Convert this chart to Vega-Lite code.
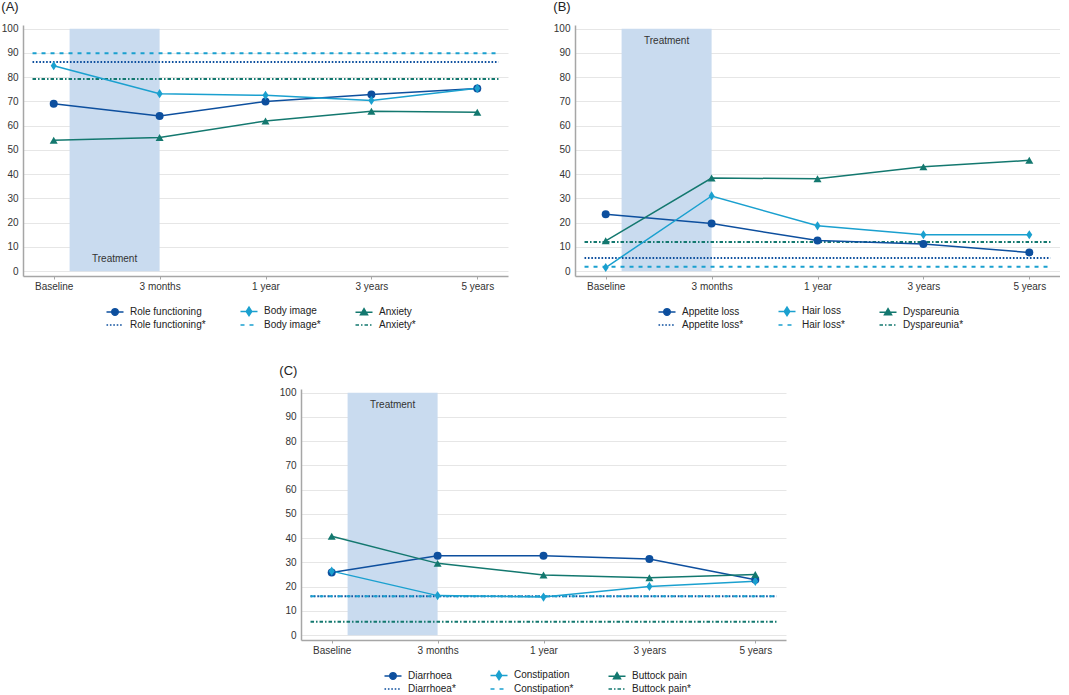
{
  "$schema": "https://vega.github.io/schema/vega-lite/v6.json",
  "padding": {"left": 1, "top": 0, "right": 0, "bottom": 0},
  "config": {
    "font": "Liberation Sans",
    "view": {"stroke": null},
    "title": {"anchor": "start", "frame": "bounds", "fontSize": 13, "fontWeight": "normal", "offset": 10, "color": "#222222"},
    "axis": {"labelFontSize": 10, "labelColor": "#333333", "domainColor": "#a6a6a6", "domainWidth": 1.5, "tickColor": "#a6a6a6"},
    "axisY": {"tickCount": 11, "grid": true, "gridColor": "#e6e6e6", "ticks": false, "labelPadding": 5},
    "axisX": {"tickCount": 5, "grid": false, "ticks": true, "tickSize": 3, "labelPadding": 2, "labelFlush": false},
    "legend": {"labelFontSize": 10, "labelColor": "#222222", "orient": "none", "legendX": 86, "legendY": 280, "direction": "horizontal", "columns": 3, "columnPadding": 31, "rowPadding": 0, "symbolSize": 100, "labelOffset": 9}
  },
  "datasets": {
    "band": [{"label": "Treatment", "t": 0.15, "t2": 1, "value": 0, "value2": 100}],
    "a_meas": [
      {"series": "Role functioning", "t": 0, "value": 69},
      {"series": "Role functioning", "t": 1, "value": 64},
      {"series": "Role functioning", "t": 2, "value": 70},
      {"series": "Role functioning", "t": 3, "value": 72.8},
      {"series": "Role functioning", "t": 4, "value": 75.3},
      {"series": "Body image", "t": 0, "value": 84.7},
      {"series": "Body image", "t": 1, "value": 73.2},
      {"series": "Body image", "t": 2, "value": 72.5},
      {"series": "Body image", "t": 3, "value": 70.4},
      {"series": "Body image", "t": 4, "value": 75.4},
      {"series": "Anxiety", "t": 0, "value": 54},
      {"series": "Anxiety", "t": 1, "value": 55.1},
      {"series": "Anxiety", "t": 2, "value": 61.9},
      {"series": "Anxiety", "t": 3, "value": 65.9},
      {"series": "Anxiety", "t": 4, "value": 65.5}
    ],
    "a_ref": [
      {"series": "Role functioning*", "value": 86.2},
      {"series": "Body image*", "value": 89.8},
      {"series": "Anxiety*", "value": 79.2}
    ],
    "b_meas": [
      {"series": "Appetite loss", "t": 0, "value": 23.5},
      {"series": "Appetite loss", "t": 1, "value": 19.6},
      {"series": "Appetite loss", "t": 2, "value": 12.6},
      {"series": "Appetite loss", "t": 3, "value": 11.2},
      {"series": "Appetite loss", "t": 4, "value": 7.7},
      {"series": "Hair loss", "t": 0, "value": 1.5},
      {"series": "Hair loss", "t": 1, "value": 31},
      {"series": "Hair loss", "t": 2, "value": 18.7},
      {"series": "Hair loss", "t": 3, "value": 15},
      {"series": "Hair loss", "t": 4, "value": 15},
      {"series": "Dyspareunia", "t": 0, "value": 12.5},
      {"series": "Dyspareunia", "t": 1, "value": 38.4},
      {"series": "Dyspareunia", "t": 2, "value": 38.1},
      {"series": "Dyspareunia", "t": 3, "value": 43},
      {"series": "Dyspareunia", "t": 4, "value": 45.7}
    ],
    "b_ref": [
      {"series": "Appetite loss*", "value": 5.4},
      {"series": "Hair loss*", "value": 1.8},
      {"series": "Dyspareunia*", "value": 12}
    ],
    "c_meas": [
      {"series": "Diarrhoea", "t": 0, "value": 25.8},
      {"series": "Diarrhoea", "t": 1, "value": 32.7},
      {"series": "Diarrhoea", "t": 2, "value": 32.7},
      {"series": "Diarrhoea", "t": 3, "value": 31.4},
      {"series": "Diarrhoea", "t": 4, "value": 22.8},
      {"series": "Constipation", "t": 0, "value": 26.4},
      {"series": "Constipation", "t": 1, "value": 16.3},
      {"series": "Constipation", "t": 2, "value": 15.7},
      {"series": "Constipation", "t": 3, "value": 20.1},
      {"series": "Constipation", "t": 4, "value": 22.2},
      {"series": "Buttock pain", "t": 0, "value": 40.8},
      {"series": "Buttock pain", "t": 1, "value": 29.6},
      {"series": "Buttock pain", "t": 2, "value": 24.8},
      {"series": "Buttock pain", "t": 3, "value": 23.7},
      {"series": "Buttock pain", "t": 4, "value": 25}
    ],
    "c_ref": [
      {"series": "Diarrhoea*", "value": 16},
      {"series": "Constipation*", "value": 16},
      {"series": "Buttock pain*", "value": 5.5}
    ]
  },
  "resolve": {"scale": {"color": "independent", "shape": "independent", "strokeDash": "independent"}},
  "spacing": 34,
  "vconcat": [
    {
      "spacing": 45,
      "resolve": {"scale": {"color": "independent", "shape": "independent", "strokeDash": "independent"}},
      "hconcat": [
        {
          "width": 485,
          "height": 251,
          "title": "(A)",
          "layer": [
            {"data": {"name": "band"}, "mark": {"type": "rect", "color": "#c9dbef"}, "encoding": {
              "x": {"field": "t", "type": "quantitative", "title": null, "scale": {"domain": [-0.29, 4.29], "nice": false, "zero": false}, "axis": {"values": [0, 1, 2, 3, 4], "labelExpr": "['Baseline','3 months','1 year','3 years','5 years'][datum.value]"}},
              "x2": {"field": "t2"},
              "y": {"field": "value", "type": "quantitative", "title": null, "scale": {"domain": [-2, 101.5], "nice": false, "zero": false}, "axis": {"values": [0, 10, 20, 30, 40, 50, 60, 70, 80, 90, 100]}},
              "y2": {"field": "value2"}}},
            {"data": {"name": "band"}, "mark": {"type": "text", "fontSize": 10, "color": "#333333"}, "encoding": {"x": {"datum": 0.575}, "y": {"datum": 5}, "text": {"field": "label"}}},
            {"data": {"name": "a_ref"}, "mark": {"type": "rule", "strokeWidth": 2}, "encoding": {
              "x": {"datum": -0.2}, "x2": {"datum": 4.2},
              "y": {"field": "value", "type": "quantitative", "title": null},
              "color": {"field": "series", "type": "nominal", "title": null, "scale": {"domain": ["Role functioning", "Body image", "Anxiety", "Role functioning*", "Body image*", "Anxiety*"], "range": ["#0d4f9e", "#1aa0cf", "#13786f", "#0d4f9e", "#1aa0cf", "#13786f"]}, "legend": {"encode": {"symbols": {"update": {
                "shape": {"signal": "datum.index == 0 ? 'M-1.7,0H1.7M-0.65,0A0.65,0.65,0,1,0,0.65,0A0.65,0.65,0,1,0,-0.65,0Z' : datum.index == 1 ? 'M-1.7,0H1.7M0,-0.85L0.55,0L0,0.85L-0.55,0Z' : datum.index == 2 ? 'M-1.7,0H1.7M0,-0.7L0.7,0.5L-0.7,0.5Z' : 'M-1.7,0H1.7'"},
                "stroke": {"signal": "['#0d4f9e','#1aa0cf','#13786f'][datum.index % 3]"},
                "fill": {"signal": "datum.index < 3 ? ['#0d4f9e','#1aa0cf','#13786f'][datum.index % 3] : 'transparent'"},
                "strokeDash": {"signal": "[[], [], [], [1.6,1.8], [4,5], [3.5,2,1.5,2]][datum.index]"},
                "strokeWidth": {"value": 1.5}, "size": {"value": 100}, "opacity": {"value": 1}}}}}},
              "strokeDash": {"field": "series", "type": "nominal", "scale": {"domain": ["Role functioning*", "Body image*", "Anxiety*"], "range": [[1.6, 1.8], [4, 5], [3.5, 2, 1.5, 2]]}, "legend": null}
            }},
            {"data": {"name": "a_meas"}, "mark": {"type": "line", "strokeWidth": 1.5}, "encoding": {
              "x": {"field": "t", "type": "quantitative", "title": null},
              "y": {"field": "value", "type": "quantitative", "title": null},
              "color": {"field": "series", "type": "nominal", "title": null, "scale": {"domain": ["Role functioning", "Body image", "Anxiety", "Role functioning*", "Body image*", "Anxiety*"], "range": ["#0d4f9e", "#1aa0cf", "#13786f", "#0d4f9e", "#1aa0cf", "#13786f"]}, "legend": null}
            }},
            {"data": {"name": "a_meas"}, "mark": {"type": "point", "filled": true, "opacity": 1, "size": 64}, "encoding": {
              "x": {"field": "t", "type": "quantitative", "title": null},
              "y": {"field": "value", "type": "quantitative", "title": null},
              "color": {"field": "series", "type": "nominal", "title": null, "scale": {"domain": ["Role functioning", "Body image", "Anxiety", "Role functioning*", "Body image*", "Anxiety*"], "range": ["#0d4f9e", "#1aa0cf", "#13786f", "#0d4f9e", "#1aa0cf", "#13786f"]}, "legend": null},
              "shape": {"field": "series", "type": "nominal", "scale": {"domain": ["Role functioning", "Body image", "Anxiety"], "range": ["circle", "M0,-1.15L0.75,0L0,1.15L-0.75,0Z", "triangle-up"]}, "legend": null}
            }}
          ]
        },
        {
          "width": 485,
          "height": 251,
          "title": "(B)",
          "layer": [
            {"data": {"name": "band"}, "mark": {"type": "rect", "color": "#c9dbef"}, "encoding": {
              "x": {"field": "t", "type": "quantitative", "title": null, "scale": {"domain": [-0.29, 4.29], "nice": false, "zero": false}, "axis": {"values": [0, 1, 2, 3, 4], "labelExpr": "['Baseline','3 months','1 year','3 years','5 years'][datum.value]"}},
              "x2": {"field": "t2"},
              "y": {"field": "value", "type": "quantitative", "title": null, "scale": {"domain": [-2, 101.5], "nice": false, "zero": false}, "axis": {"values": [0, 10, 20, 30, 40, 50, 60, 70, 80, 90, 100]}},
              "y2": {"field": "value2"}}},
            {"data": {"name": "band"}, "mark": {"type": "text", "fontSize": 10, "color": "#333333"}, "encoding": {"x": {"datum": 0.575}, "y": {"datum": 95}, "text": {"field": "label"}}},
            {"data": {"name": "b_ref"}, "mark": {"type": "rule", "strokeWidth": 2}, "encoding": {
              "x": {"datum": -0.2}, "x2": {"datum": 4.2},
              "y": {"field": "value", "type": "quantitative", "title": null},
              "color": {"field": "series", "type": "nominal", "title": null, "scale": {"domain": ["Appetite loss", "Hair loss", "Dyspareunia", "Appetite loss*", "Hair loss*", "Dyspareunia*"], "range": ["#0d4f9e", "#1aa0cf", "#13786f", "#0d4f9e", "#1aa0cf", "#13786f"]}, "legend": {"encode": {"symbols": {"update": {
                "shape": {"signal": "datum.index == 0 ? 'M-1.7,0H1.7M-0.65,0A0.65,0.65,0,1,0,0.65,0A0.65,0.65,0,1,0,-0.65,0Z' : datum.index == 1 ? 'M-1.7,0H1.7M0,-0.85L0.55,0L0,0.85L-0.55,0Z' : datum.index == 2 ? 'M-1.7,0H1.7M0,-0.7L0.7,0.5L-0.7,0.5Z' : 'M-1.7,0H1.7'"},
                "stroke": {"signal": "['#0d4f9e','#1aa0cf','#13786f'][datum.index % 3]"},
                "fill": {"signal": "datum.index < 3 ? ['#0d4f9e','#1aa0cf','#13786f'][datum.index % 3] : 'transparent'"},
                "strokeDash": {"signal": "[[], [], [], [1.6,1.8], [4,5], [3.5,2,1.5,2]][datum.index]"},
                "strokeWidth": {"value": 1.5}, "size": {"value": 100}, "opacity": {"value": 1}}}}}},
              "strokeDash": {"field": "series", "type": "nominal", "scale": {"domain": ["Appetite loss*", "Hair loss*", "Dyspareunia*"], "range": [[1.6, 1.8], [4, 5], [3.5, 2, 1.5, 2]]}, "legend": null}
            }},
            {"data": {"name": "b_meas"}, "mark": {"type": "line", "strokeWidth": 1.5}, "encoding": {
              "x": {"field": "t", "type": "quantitative", "title": null},
              "y": {"field": "value", "type": "quantitative", "title": null},
              "color": {"field": "series", "type": "nominal", "title": null, "scale": {"domain": ["Appetite loss", "Hair loss", "Dyspareunia", "Appetite loss*", "Hair loss*", "Dyspareunia*"], "range": ["#0d4f9e", "#1aa0cf", "#13786f", "#0d4f9e", "#1aa0cf", "#13786f"]}, "legend": null}
            }},
            {"data": {"name": "b_meas"}, "mark": {"type": "point", "filled": true, "opacity": 1, "size": 64}, "encoding": {
              "x": {"field": "t", "type": "quantitative", "title": null},
              "y": {"field": "value", "type": "quantitative", "title": null},
              "color": {"field": "series", "type": "nominal", "title": null, "scale": {"domain": ["Appetite loss", "Hair loss", "Dyspareunia", "Appetite loss*", "Hair loss*", "Dyspareunia*"], "range": ["#0d4f9e", "#1aa0cf", "#13786f", "#0d4f9e", "#1aa0cf", "#13786f"]}, "legend": null},
              "shape": {"field": "series", "type": "nominal", "scale": {"domain": ["Appetite loss", "Hair loss", "Dyspareunia"], "range": ["circle", "M0,-1.15L0.75,0L0,1.15L-0.75,0Z", "triangle-up"]}, "legend": null}
            }}
          ]
        }
      ]
    },
    {
      "spacing": 0,
      "resolve": {"scale": {"color": "independent", "shape": "independent", "strokeDash": "independent"}},
      "hconcat": [
        {"width": 256, "height": 10, "data": {"values": []}, "mark": "point", "encoding": {}, "view": {"fill": "#ffffff", "stroke": null}},
        {
          "width": 485,
          "height": 251,
          "title": "(C)",
          "layer": [
            {"data": {"name": "band"}, "mark": {"type": "rect", "color": "#c9dbef"}, "encoding": {
              "x": {"field": "t", "type": "quantitative", "title": null, "scale": {"domain": [-0.29, 4.29], "nice": false, "zero": false}, "axis": {"values": [0, 1, 2, 3, 4], "labelExpr": "['Baseline','3 months','1 year','3 years','5 years'][datum.value]"}},
              "x2": {"field": "t2"},
              "y": {"field": "value", "type": "quantitative", "title": null, "scale": {"domain": [-2, 101.5], "nice": false, "zero": false}, "axis": {"values": [0, 10, 20, 30, 40, 50, 60, 70, 80, 90, 100]}},
              "y2": {"field": "value2"}}},
            {"data": {"name": "band"}, "mark": {"type": "text", "fontSize": 10, "color": "#333333"}, "encoding": {"x": {"datum": 0.575}, "y": {"datum": 95}, "text": {"field": "label"}}},
            {"data": {"name": "c_ref"}, "mark": {"type": "rule", "strokeWidth": 2}, "encoding": {
              "x": {"datum": -0.2}, "x2": {"datum": 4.2},
              "y": {"field": "value", "type": "quantitative", "title": null},
              "color": {"field": "series", "type": "nominal", "title": null, "scale": {"domain": ["Diarrhoea", "Constipation", "Buttock pain", "Diarrhoea*", "Constipation*", "Buttock pain*"], "range": ["#0d4f9e", "#1aa0cf", "#13786f", "#0d4f9e", "#1aa0cf", "#13786f"]}, "legend": {"encode": {"symbols": {"update": {
                "shape": {"signal": "datum.index == 0 ? 'M-1.7,0H1.7M-0.65,0A0.65,0.65,0,1,0,0.65,0A0.65,0.65,0,1,0,-0.65,0Z' : datum.index == 1 ? 'M-1.7,0H1.7M0,-0.85L0.55,0L0,0.85L-0.55,0Z' : datum.index == 2 ? 'M-1.7,0H1.7M0,-0.7L0.7,0.5L-0.7,0.5Z' : 'M-1.7,0H1.7'"},
                "stroke": {"signal": "['#0d4f9e','#1aa0cf','#13786f'][datum.index % 3]"},
                "fill": {"signal": "datum.index < 3 ? ['#0d4f9e','#1aa0cf','#13786f'][datum.index % 3] : 'transparent'"},
                "strokeDash": {"signal": "[[], [], [], [1.6,1.8], [4,5], [3.5,2,1.5,2]][datum.index]"},
                "strokeWidth": {"value": 1.5}, "size": {"value": 100}, "opacity": {"value": 1}}}}}},
              "strokeDash": {"field": "series", "type": "nominal", "scale": {"domain": ["Diarrhoea*", "Constipation*", "Buttock pain*"], "range": [[1.6, 1.8], [4, 5], [3.5, 2, 1.5, 2]]}, "legend": null}
            }},
            {"data": {"name": "c_meas"}, "mark": {"type": "line", "strokeWidth": 1.5}, "encoding": {
              "x": {"field": "t", "type": "quantitative", "title": null},
              "y": {"field": "value", "type": "quantitative", "title": null},
              "color": {"field": "series", "type": "nominal", "title": null, "scale": {"domain": ["Diarrhoea", "Constipation", "Buttock pain", "Diarrhoea*", "Constipation*", "Buttock pain*"], "range": ["#0d4f9e", "#1aa0cf", "#13786f", "#0d4f9e", "#1aa0cf", "#13786f"]}, "legend": null}
            }},
            {"data": {"name": "c_meas"}, "mark": {"type": "point", "filled": true, "opacity": 1, "size": 64}, "encoding": {
              "x": {"field": "t", "type": "quantitative", "title": null},
              "y": {"field": "value", "type": "quantitative", "title": null},
              "color": {"field": "series", "type": "nominal", "title": null, "scale": {"domain": ["Diarrhoea", "Constipation", "Buttock pain", "Diarrhoea*", "Constipation*", "Buttock pain*"], "range": ["#0d4f9e", "#1aa0cf", "#13786f", "#0d4f9e", "#1aa0cf", "#13786f"]}, "legend": null},
              "shape": {"field": "series", "type": "nominal", "scale": {"domain": ["Diarrhoea", "Constipation", "Buttock pain"], "range": ["circle", "M0,-1.15L0.75,0L0,1.15L-0.75,0Z", "triangle-up"]}, "legend": null}
            }}
          ]
        }
      ]
    }
  ]
}
